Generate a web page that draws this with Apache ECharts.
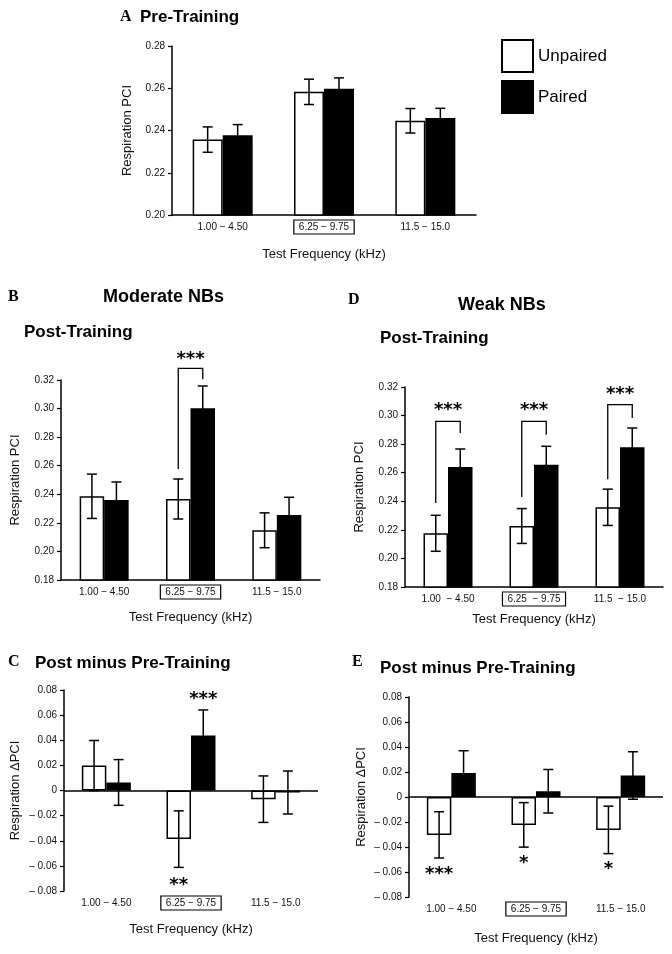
<!DOCTYPE html>
<html><head><meta charset="utf-8">
<script src="https://cdn.jsdelivr.net/npm/echarts@6/dist/echarts.min.js"></script>
<style>html,body{margin:0;padding:0;background:#fff}#c{width:672px;height:954px}</style>
</head><body><div id="c"></div>
<script>
// ---------- data ----------
const categories = ['1.00 − 4.50', '6.25 − 9.75', '11.5 − 15.0'];
const categoriesD = ['1.00  − 4.50', '6.25  − 9.75', '11.5  − 15.0'];
const seriesNames = ['Unpaired', 'Paired'];

// A: Pre-Training
const preUnpaired = [0.2357, 0.2583, 0.2446];
const preUnpairedErr = [0.0060, 0.0060, 0.0058];
const prePaired = [0.2378, 0.2598, 0.2459];
const prePairedErr = [0.0050, 0.0051, 0.0046];
// B: Moderate NBs, Post-Training
const modPostUnpaired = [0.2386, 0.2367, 0.2148];
const modPostUnpairedErr = [0.0155, 0.0140, 0.0122];
const modPostPaired = [0.2360, 0.3002, 0.2255];
const modPostPairedErr = [0.0126, 0.0156, 0.0124];
// C: Moderate NBs, Post minus Pre
const modDiffUnpaired = [0.0199, -0.0387, -0.0069];
const modDiffUnpairedErr = [0.0199, 0.0225, 0.0185];
const modDiffPaired = [0.0064, 0.0437, -0.0016];
const modDiffPairedErr = [0.0182, 0.0204, 0.0171];
// D: Weak NBs, Post-Training
const weakPostUnpaired = [0.2176, 0.2227, 0.2358];
const weakPostUnpairedErr = [0.0126, 0.0122, 0.0127];
const weakPostPaired = [0.2640, 0.2656, 0.2778];
const weakPostPairedErr = [0.0126, 0.0129, 0.0135];
// E: Weak NBs, Post minus Pre
const weakDiffUnpaired = [-0.0303, -0.0223, -0.0263];
const weakDiffUnpairedErr = [0.0185, 0.0178, 0.0190];
const weakDiffPaired = [0.0193, 0.0046, 0.0172];
const weakDiffPairedErr = [0.0177, 0.0174, 0.0190];

// y-axis ticks
const ticksPre = [0.20, 0.22, 0.24, 0.26, 0.28];
const ticksPost = [0.18, 0.20, 0.22, 0.24, 0.26, 0.28, 0.30, 0.32];
const ticksDiff = [-0.08, -0.06, -0.04, -0.02, 0, 0.02, 0.04, 0.06, 0.08];

// significance brackets: [category, leftStart, top, rightEnd]
const bracketsB = [[1, 0.2577, 0.3282, 0.3205]];
const bracketsD = [[0, 0.2388, 0.2960, 0.2878], [1, 0.2430, 0.2960, 0.2866], [2, 0.2554, 0.3076, 0.2983]];
// stars: [category, side(-1 unpaired,0 centre,1 paired), value]
const starsB = [[1, 0, 0.3378]];
const starsBText = ['***'];
const starsC = [[1, 1, 0.0760], [1, -1, -0.0720]];
const starsCText = ['***', '**'];
const starsD = [[0, 0, 0.3065], [1, 0, 0.3065], [2, 0, 0.3177]];
const starsDText = ['***', '***', '***'];
const starsE = [[0, -1, -0.0585], [1, -1, -0.0500], [2, -1, -0.0545]];
const starsEText = ['***', '*', '*'];

// ---------- chart ----------
const FONT = "'Liberation Sans', Arial, Helvetica, sans-serif";
const chart = echarts.init(document.getElementById('c'), null, {renderer: 'canvas'});

const panels = [
  {grid: {left: 172, right: 196, top: 46, bottom: 739}, cats: categories, ticks: ticksPre,
   u: preUnpaired, ue: preUnpairedErr, p: prePaired, pe: prePairedErr, bw: 30,
   xGap: 33, yGap: 38, yName: 'Respiration PCI', diff: false},
  {grid: {left: 61, right: 352, top: 380, bottom: 374}, cats: categories, ticks: ticksPost,
   u: modPostUnpaired, ue: modPostUnpairedErr, p: modPostPaired, pe: modPostPairedErr, bw: 24.5,
   xGap: 31, yGap: 39, yName: 'Respiration PCI', diff: false, br: bracketsB, st: starsB, stt: starsBText},
  {grid: {left: 64, right: 354, top: 690, bottom: 63}, cats: categories, ticks: ticksDiff,
   u: modDiffUnpaired, ue: modDiffUnpairedErr, p: modDiffPaired, pe: modDiffPairedErr, bw: 24.5,
   xGap: 32, yGap: 42, yName: 'Respiration ΔPCI', diff: true, st: starsC, stt: starsCText},
  {grid: {left: 405, right: 9, top: 387, bottom: 367}, cats: categoriesD, ticks: ticksPost,
   u: weakPostUnpaired, ue: weakPostUnpairedErr, p: weakPostPaired, pe: weakPostPairedErr, bw: 24.5,
   xGap: 26, yGap: 39, yName: 'Respiration PCI', diff: false, br: bracketsD, st: starsD, stt: starsDText},
  {grid: {left: 409, right: 9, top: 697, bottom: 57}, cats: categories, ticks: ticksDiff,
   u: weakDiffUnpaired, ue: weakDiffUnpairedErr, p: weakDiffPaired, pe: weakDiffPairedErr, bw: 24.5,
   xGap: 35, yGap: 41, yName: 'Respiration ΔPCI', diff: true, st: starsE, stt: starsEText}
];

const grids = [], xAxes = [], yAxes = [], series = [];
const lineStyle = {stroke: '#000', lineWidth: 1.5};

panels.forEach((P, i) => {
  grids.push(Object.assign({outerBoundsMode: 'none', containLabel: false}, P.grid));
  xAxes.push({
    type: 'category', gridIndex: i, data: P.cats, boundaryGap: true,
    axisLine: {show: !P.diff, onZero: false, lineStyle: {color: '#000', width: 1.5}},
    axisTick: {show: false},
    axisLabel: {
      interval: 0, margin: 5, color: '#111', fontFamily: FONT, fontSize: 10,
      formatter: (v, k) => (k === 1 ? '{b|' + v + '}' : '{n|' + v + '}'),
      rich: {
        n: {fontFamily: FONT, fontSize: 10, color: '#111', padding: [2, 5, 2, 5], borderColor: 'transparent', borderWidth: 1},
        b: {fontFamily: FONT, fontSize: 10, color: '#111', padding: [2, 5, 2, 5], borderColor: '#000', borderWidth: 1.2}
      }
    },
    name: 'Test Frequency (kHz)', nameLocation: 'middle', nameGap: P.xGap,
    nameTextStyle: {fontFamily: FONT, fontSize: 13, color: '#111'}
  });
  const tk = P.ticks;
  yAxes.push({
    type: 'value', gridIndex: i, min: tk[0], max: tk[tk.length - 1], interval: 0.02,
    axisLine: {show: true, lineStyle: {color: '#000', width: 1.5}},
    axisTick: {show: true, length: 4, lineStyle: {color: '#000', width: 1.2}},
    splitLine: {show: false},
    axisLabel: {
      margin: 7, color: '#111', fontFamily: FONT, fontSize: 10,
      formatter: v => {
        if (P.diff) {
          if (Math.abs(v) < 1e-9) return '0';
          return v < 0 ? '– ' + Math.abs(v).toFixed(2) : v.toFixed(2);
        }
        return v.toFixed(2);
      }
    },
    name: P.yName, nameLocation: 'middle', nameGap: P.yGap, nameRotate: 90,
    nameTextStyle: {fontFamily: FONT, fontSize: 13, color: '#111'}
  });

  const uSeries = {
    name: seriesNames[0], type: 'bar', xAxisIndex: i, yAxisIndex: i, data: P.u,
    barWidth: P.bw, barGap: '0%', z: 2,
    itemStyle: {color: '#fff', borderColor: '#000', borderWidth: 1.5},
    emphasis: {disabled: true}
  };
  if (P.diff) {
    uSeries.markLine = {
      silent: true, symbol: 'none', label: {show: false}, animation: false,
      lineStyle: {color: '#000', width: 1.5, type: 'solid'},
      data: [{yAxis: 0}]
    };
  }
  series.push(uSeries);
  series.push({
    name: seriesNames[1], type: 'bar', xAxisIndex: i, yAxisIndex: i, data: P.p,
    barWidth: P.bw, barGap: '0%', z: 2,
    itemStyle: {color: '#000', borderColor: '#000', borderWidth: 1.5},
    emphasis: {disabled: true}
  });

  // error bars
  const errData = P.u.map((v, k) => [k, v, P.ue[k], -1]).concat(P.p.map((v, k) => [k, v, P.pe[k], 1]));
  const bw = P.bw;
  series.push({
    type: 'custom', xAxisIndex: i, yAxisIndex: i, data: errData, z: 5, clip: false, silent: true,
    encode: {x: 0, y: 1},
    renderItem: (params, api) => {
      const c = api.value(0), v = api.value(1), e = api.value(2), s = api.value(3);
      const hi = api.coord([c, v + e]), lo = api.coord([c, v - e]);
      const x = hi[0] + s * bw / 2;
      return {type: 'group', children: [
        {type: 'line', shape: {x1: x, y1: hi[1], x2: x, y2: lo[1]}, style: lineStyle},
        {type: 'line', shape: {x1: x - 5, y1: hi[1], x2: x + 5, y2: hi[1]}, style: lineStyle},
        {type: 'line', shape: {x1: x - 5, y1: lo[1], x2: x + 5, y2: lo[1]}, style: lineStyle}
      ]};
    }
  });

  if (P.br) {
    series.push({
      type: 'custom', xAxisIndex: i, yAxisIndex: i, data: P.br, z: 5, clip: false, silent: true,
      encode: {x: 0, y: 2},
      renderItem: (params, api) => {
        const c = api.value(0);
        const a = api.coord([c, api.value(1)]), t = api.coord([c, api.value(2)]), b = api.coord([c, api.value(3)]);
        const xl = a[0] - bw / 2, xr = a[0] + bw / 2;
        return {type: 'polyline', shape: {points: [[xl, a[1]], [xl, t[1]], [xr, t[1]], [xr, b[1]]]},
          style: {stroke: '#000', lineWidth: 1.3, fill: null}};
      }
    });
  }
  if (P.st) {
    const txt = P.stt;
    series.push({
      type: 'custom', xAxisIndex: i, yAxisIndex: i, data: P.st, z: 5, clip: false, silent: true,
      encode: {x: 0, y: 2},
      renderItem: (params, api) => {
        const c = api.value(0), s = api.value(1);
        const pt = api.coord([c, api.value(2)]);
        const fs = 18;
        return {type: 'text', x: pt[0] + s * bw / 2, y: pt[1] + 0.24 * fs,
          style: {text: txt[params.dataIndex], font: 'bold ' + fs + "px 'DejaVu Sans', sans-serif",
            fill: '#000', align: 'center', verticalAlign: 'middle'}};
      }
    });
  }
});

function title(text, x, y, size, serif) {
  return {type: 'text', x: x, y: y, silent: true,
    style: {text: text, fill: '#000', align: 'left', verticalAlign: 'middle',
      font: 'bold ' + size + 'px ' + (serif ? "'Liberation Serif', 'Times New Roman', serif" : FONT)}};
}

chart.setOption({
  animation: false,
  backgroundColor: '#fff',
  grid: grids, xAxis: xAxes, yAxis: yAxes, series: series,
  legend: {
    data: seriesNames, orient: 'vertical', left: 501, top: 39, padding: 0,
    itemWidth: 31, itemHeight: 32, itemGap: 7, icon: 'rect', selectedMode: false,
    textStyle: {fontFamily: FONT, fontSize: 17, color: '#000'}
  },
  graphic: [
    title('A', 120, 17, 16, true),
    title('Pre-Training', 140, 17, 17),
    title('B', 8, 297, 16, true),
    title('Moderate NBs', 103, 297, 18),
    title('Post-Training', 24, 332, 17),
    title('D', 348, 300, 16, true),
    title('Weak NBs', 458, 305, 18),
    title('Post-Training', 380, 338, 17),
    title('C', 8, 662, 16, true),
    title('Post minus Pre-Training', 35, 663, 17),
    title('E', 352, 662, 16, true),
    title('Post minus Pre-Training', 380, 668, 17)
  ]
});
</script></body></html>
